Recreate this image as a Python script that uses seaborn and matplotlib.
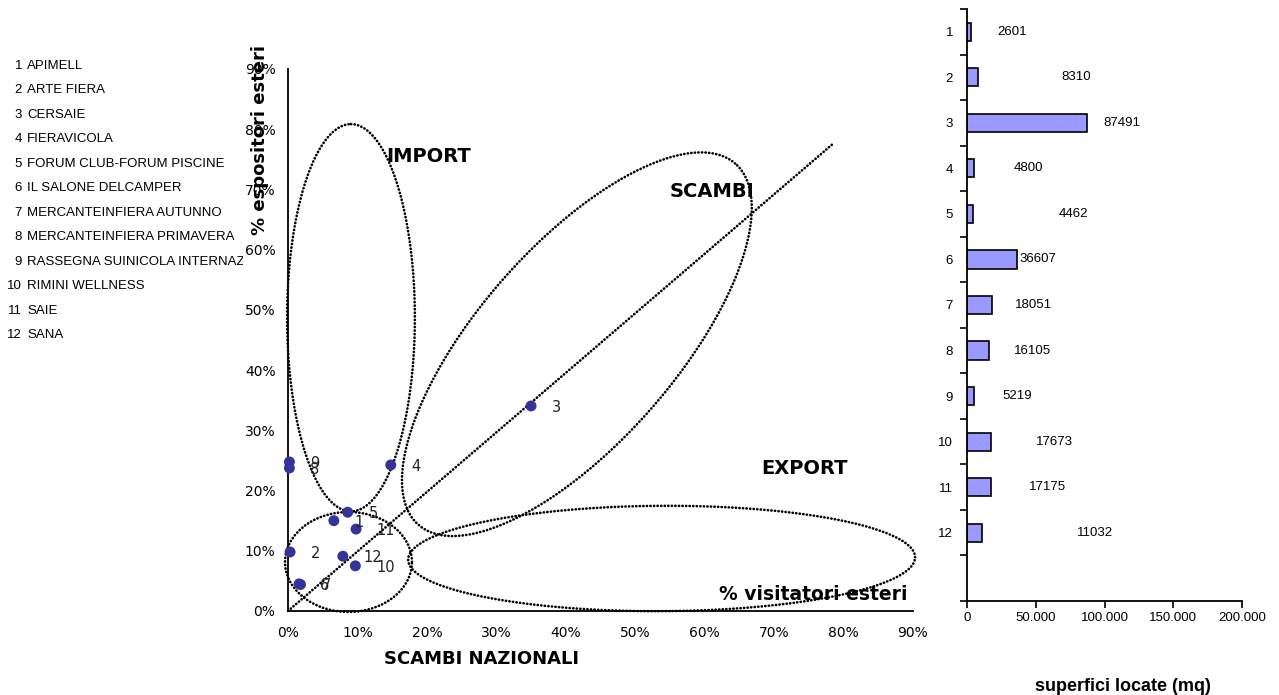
import numpy as np
import pandas as pd
import matplotlib
matplotlib.use("Agg")
import matplotlib.pyplot as plt
import seaborn as sns
from matplotlib.ticker import PercentFormatter, FuncFormatter, FixedLocator, MultipleLocator

# ── data ─────────────────────────────────────────────────
fair_ids = list(range(1, 13))
fair_names = [
    "APIMELL", "ARTE FIERA", "CERSAIE", "FIERAVICOLA",
    "FORUM CLUB-FORUM PISCINE", "IL SALONE DELCAMPER",
    "MERCANTEINFIERA AUTUNNO", "MERCANTEINFIERA PRIMAVERA",
    "RASSEGNA SUINICOLA INTERNAZIONALE", "RIMINI WELLNESS", "SAIE", "SANA",
]
# share of national exchanges (x) and of foreign exhibitors (y)
scambi_nazionali = [0.066, 0.003, 0.350, 0.148, 0.086, 0.016, 0.018, 0.002, 0.002, 0.097, 0.098, 0.079]
espositori_esteri = [0.150, 0.098, 0.3405, 0.2425, 0.164, 0.045, 0.044, 0.2375, 0.2475, 0.075, 0.136, 0.091]
# rented surface (mq)
superfici_mq = [2601, 8310, 87491, 4800, 4462, 36607, 18051, 16105, 5219, 17673, 17175, 11032]

# where the value labels sit along the mq axis (as in the original sheet)
value_label_x = [32700, 79300, 112700, 44400, 77100, 51600, 48700, 48000, 36400, 63300, 58900, 93100]

# ── style ────────────────────────────────────────────────
sns.set_style("white")
plt.rcParams["font.family"] = ["DejaVu Sans"]
plt.rcParams.update({"text.color": "black", "axes.labelcolor": "black",
                     "xtick.color": "black", "ytick.color": "black"})

W, H = 1279, 695
fig = plt.figure(figsize=(W / 100, H / 100), dpi=100)

ARIAL = "Liberation Sans"
DOT = dict(color="black", lw=1.9, ls=(0, (0.1, 1.25)), dash_capstyle="round", clip_on=False)


def ellipse(cx, cy, ux, uy, vx, vy, n=400):
    t = np.linspace(0, 2 * np.pi, n)
    return cx + ux * np.cos(t) + vx * np.sin(t), cy + uy * np.cos(t) + vy * np.sin(t)


# ── legend column (left) ─────────────────────────────────
ax_leg = fig.add_axes([0, 0, 243 / W, 1])
ax_leg.set_xlim(0, 243)
ax_leg.set_ylim(H, 0)
ax_leg.axis("off")
for i, (fid, name) in enumerate(zip(fair_ids, fair_names)):
    yy = 66 + i * 24.45
    ax_leg.text(22, yy, str(fid), ha="right", va="center", fontsize=9.5,
                family=ARIAL, clip_on=True)
    ax_leg.text(27, yy, name, ha="left", va="center", fontsize=9.5,
                family=ARIAL, clip_on=True)

# ── scatter ──────────────────────────────────────────────
ax = fig.add_axes([288 / W, 1 - 611 / H, (913 - 288) / W, (611 - 69) / H])
ax.patch.set_alpha(0)

df = pd.DataFrame({"id": fair_ids, "scambi": scambi_nazionali, "esteri": espositori_esteri})

# zones
ax.plot([0, 0.786], [0, 0.777], **DOT)
ax.plot(*ellipse(0.0907, 0.487, 0, 0.3215, 0.092, 0), **DOT)         # import
ax.plot(*ellipse(0.0871, 0.0814, 0.0914, 0, 0, 0.083), **DOT)         # small circle
ax.plot(*ellipse(0.416, 0.443, 0.228, 0.300, -0.107, 0.107), **DOT)  # scambi
ax.plot(*ellipse(0.538, 0.0872, 0.365, 0.002, 0, 0.0875), **DOT)     # export

sns.scatterplot(data=df, x="scambi", y="esteri", color="#333399", s=62,
                edgecolor="none", ax=ax, zorder=3, clip_on=False)
for _, r in df.iterrows():
    ax.annotate(str(int(r["id"])), (r["scambi"], r["esteri"]), xytext=(15, -1),
                textcoords="offset points", ha="left", va="center",
                fontsize=10.5, color="#222222")

ax.set_xlim(0, 0.9)
ax.set_ylim(0, 0.9)
ax.xaxis.set_major_locator(MultipleLocator(0.1))
ax.yaxis.set_major_locator(MultipleLocator(0.1))
ax.xaxis.set_major_formatter(PercentFormatter(1.0, decimals=0))
ax.yaxis.set_major_formatter(PercentFormatter(1.0, decimals=0))
ax.tick_params(axis="both", direction="out", length=5, width=1.2, labelsize=10, color="black")
ax.tick_params(axis="x", pad=6)
ax.tick_params(axis="y", pad=4)
for s in ["top", "right"]:
    ax.spines[s].set_visible(False)
for s in ["left", "bottom"]:
    ax.spines[s].set_color("black")
    ax.spines[s].set_linewidth(1.3)
ax.set_xlabel("")
ax.set_ylabel("")

bold = dict(fontweight="bold", color="black")
ax.text(0.202, 0.754, "IMPORT", ha="center", va="center", fontsize=14, **bold)
ax.text(0.611, 0.696, "SCAMBI", ha="center", va="center", fontsize=14, **bold)
ax.text(0.744, 0.237, "EXPORT", ha="center", va="center", fontsize=14, **bold)
ax.text(0.992, 0.031, "% visitatori esteri", transform=ax.transAxes,
        ha="right", va="center", fontsize=13.5, **bold)
ax.text(0.31, -0.089, "SCAMBI NAZIONALI", transform=ax.transAxes,
        ha="center", va="center", fontsize=13, **bold)
ax.text(-0.045, 0.869, "% espositori esteri", transform=ax.transAxes, rotation=90,
        ha="center", va="center", fontsize=13, **bold)

# ── bars (right) ─────────────────────────────────────────
axb = fig.add_axes([967 / W, 1 - 601 / H, (1242 - 967) / W, (601 - 9) / H])
df_bar = pd.DataFrame({"fiera": [str(i) for i in fair_ids], "mq": superfici_mq})
sns.barplot(data=df_bar, y="fiera", x="mq", orient="h", color="#9999FF",
            saturation=1, edgecolor="black", linewidth=1.2, width=0.4, ax=axb)
for i, (v, lx) in enumerate(zip(superfici_mq, value_label_x)):
    axb.text(lx, i, str(v), ha="center", va="center", fontsize=9.5, family=ARIAL)

axb.set_ylim(12.5, -0.5)
axb.set_xlim(0, 200000)
axb.xaxis.set_major_locator(MultipleLocator(50000))
axb.xaxis.set_major_formatter(FuncFormatter(lambda v, p: f"{int(v):,}".replace(",", ".")))
axb.yaxis.set_minor_locator(FixedLocator(np.arange(-0.5, 13, 1)))
axb.tick_params(axis="y", which="major", length=0, pad=10, labelsize=9.5)
axb.tick_params(axis="y", which="minor", direction="out", length=5, width=1.2, color="black", left=True)
axb.tick_params(axis="x", direction="out", length=5, width=1.2, color="black", pad=3,
                labelsize=9.5, bottom=True)
for lab in axb.get_xticklabels() + axb.get_yticklabels():
    lab.set_family(ARIAL)
for s in ["top", "right"]:
    axb.spines[s].set_visible(False)
for s in ["left", "bottom"]:
    axb.spines[s].set_color("black")
    axb.spines[s].set_linewidth(1.3)
axb.set_xlabel("")
axb.set_ylabel("")
axb.text(0.567, -0.1436, "superfici locate (mq)", transform=axb.transAxes,
         ha="center", va="center", fontsize=13, fontweight="bold", family=ARIAL)

fig.savefig("out.png", dpi=100, facecolor="white")
